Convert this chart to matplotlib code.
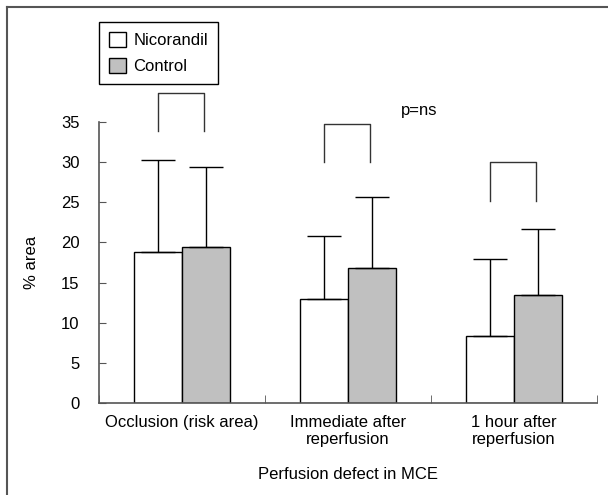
import matplotlib
matplotlib.use("Agg")
import matplotlib.pyplot as plt
from matplotlib.patches import Patch
from matplotlib.lines import Line2D
import numpy as np

# Perfusion defect (% area), mean and SD (upper error only)
categories = ["Occlusion (risk area)", "Immediate after\nreperfusion", "1 hour after\nreperfusion"]
nicorandil_mean = [18.8, 13.0, 8.4]
nicorandil_sd = [11.5, 7.8, 9.5]
control_mean = [19.4, 16.8, 13.4]
control_sd = [10.0, 8.8, 8.3]
bracket_top = [38.6, 34.8, 30.0]
bracket_bottom = [33.9, 30.0, 25.2]
yticks = [0, 5, 10, 15, 20, 25, 30, 35]

plt.rcParams["font.family"] = ["Liberation Sans", "DejaVu Sans"]
plt.rcParams["font.size"] = 12

fig = plt.figure(figsize=(6.08, 4.95), dpi=100)
ax = fig.add_axes([0.1628, 0.1859, 0.8191, 0.5677])

x = np.arange(len(categories))
w = 0.29
ax.bar(x - w / 2, nicorandil_mean, w, color="white", edgecolor="black", linewidth=1)
ax.bar(x + w / 2, control_mean, w, color="#c0c0c0", edgecolor="black", linewidth=1)
ax.errorbar(x - w / 2, nicorandil_mean, yerr=[np.zeros(3), nicorandil_sd],
            fmt="none", ecolor="black", elinewidth=1, capsize=12, capthick=1)
ax.errorbar(x + w / 2, control_mean, yerr=[np.zeros(3), control_sd],
            fmt="none", ecolor="black", elinewidth=1, capsize=12, capthick=1)

for i in range(len(categories)):
    xl, xr = x[i] - w / 2, x[i] + w / 2 - 0.015
    ax.plot([xl, xl, xr, xr], [bracket_bottom[i], bracket_top[i], bracket_top[i], bracket_bottom[i]],
            color="#333333", linewidth=1, clip_on=False)

ax.text(1.43, 36.4, "p=ns", ha="center", va="center")

ax.set_xlim(-0.5, 2.5)
ax.set_ylim(0, 35)
ax.set_yticks(yticks)
ax.set_xticks(x)
ax.set_xticklabels(categories, linespacing=1.15)
ax.set_xticks([-0.5, 0.5, 1.5, 2.5], minor=True)
ax.tick_params(axis="x", which="major", length=0, pad=9)
ax.tick_params(axis="x", which="minor", direction="in", length=6, color="#555555")
ax.tick_params(axis="y", direction="in", length=5, pad=14, color="#555555")
for s in ["top", "right"]:
    ax.spines[s].set_visible(False)
for s in ["left", "bottom"]:
    ax.spines[s].set_color("#555555")
    ax.spines[s].set_linewidth(1.2)

ax.set_ylabel("% area", labelpad=16)
ax.set_xlabel("Perfusion defect in MCE", labelpad=14)

handles = [Patch(facecolor="white", edgecolor="black", label="Nicorandil"),
           Patch(facecolor="#c0c0c0", edgecolor="black", label="Control")]
leg = ax.legend(handles=handles, loc="upper left", bbox_to_anchor=(0.0, 1.356),
                borderaxespad=0, frameon=True, fancybox=False, framealpha=1,
                edgecolor="black", handlelength=1.0, handleheight=1.0,
                labelspacing=0.6, borderpad=0.6, handletextpad=0.45)
leg.get_frame().set_linewidth(1)

# outer frame (only top and left edges fall inside the image)
fig.add_artist(Line2D([7 / 608, 7 / 608], [0, 1 - 7 / 495], transform=fig.transFigure,
                      color="#555555", linewidth=1.5))
fig.add_artist(Line2D([7 / 608, 1], [1 - 7 / 495, 1 - 7 / 495], transform=fig.transFigure,
                      color="#555555", linewidth=1.5))

fig.savefig("out.png", dpi=100)
